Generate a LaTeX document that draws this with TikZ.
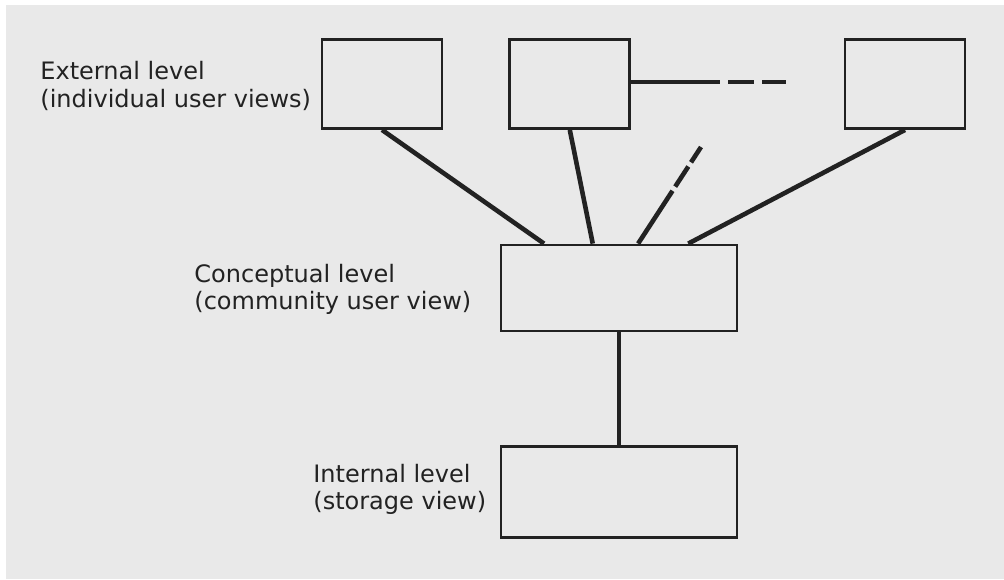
\documentclass[tikz,border=0pt]{standalone}
\usepackage{fontspec}
\setmainfont{DejaVu Sans}
\usepackage{tikz}
\usetikzlibrary{positioning,calc}
\definecolor{Ink}{HTML}{222222}
\definecolor{Paper}{HTML}{E9E9E9}

\begin{document}
\begin{tikzpicture}[
    x=0.5pt, y=-0.5pt,
    node distance=32.5pt and 32.5pt,
    userview/.style={
        rectangle,
        draw=Ink,
        line width=1.4pt,
        inner sep=0pt,
        minimum width=60pt,
        minimum height=44.5pt
    },
    levelbox/.style={
        rectangle,
        draw=Ink,
        line width=1.4pt,
        inner sep=0pt,
        minimum width=118pt
    },
    levellabel/.style={
        anchor=base west,
        inner sep=0pt,
        align=left,
        text=Ink,
        font=\fontsize{12}{13.5}\selectfont
    },
    link/.style={line width=2.3pt, draw=Ink}
]
    \useasboundingbox (0,0) rectangle (1004,579);
    \fill[Paper] (6,5) rectangle (1004,579);

    \node[userview] (extA) at (382,84) {};
    \node[userview, right=of extA] (extB) {};
    \node[userview] (extC) at (905,84) {};
    \node[levelbox, minimum height=43pt] (concept) at (619,288) {};
    \node[levelbox, minimum height=45.5pt, below=56.5pt of concept] (internal) {};

    \node[levellabel, font=\fontsize{12}{14}\selectfont] (extlabel) at (40,107) {External level\\(individual user views)};
    \node[levellabel] (conlabel) at (194,309) {Conceptual level\\(community user view)};
    \node[levellabel] (intlabel) at (313,509) {Internal level\\(storage view)};

    % where the views meet the conceptual box
    \coordinate (inA) at ($(concept.north west)!0.186!(concept.north east)$);
    \coordinate (inB) at ($(concept.north west)!0.39!(concept.north east)$);
    \coordinate (inDash) at ($(concept.north west)!0.58!(concept.north east)$);
    \coordinate (inC) at ($(concept.north west)!0.79!(concept.north east)$);
    \coordinate (moreviews) at (786,82);
    \coordinate (moretip) at (701,147);

    \draw[link] (extA.south) -- (inA);
    \draw[link] (extB.south) -- (inB);
    \draw[link] (extC.south) -- (inC);
    \draw[link, dash pattern=on 31.5pt off 2.5pt on 12pt off 2.5pt on 12pt] (inDash) -- (moretip);
    \draw[link, dash pattern=on 44.5pt off 4pt on 13pt off 4pt on 14pt] (extB.east |- moreviews) -- (moreviews);
    \draw[link] (concept.south) -- (internal.north);
\end{tikzpicture}
\end{document}
